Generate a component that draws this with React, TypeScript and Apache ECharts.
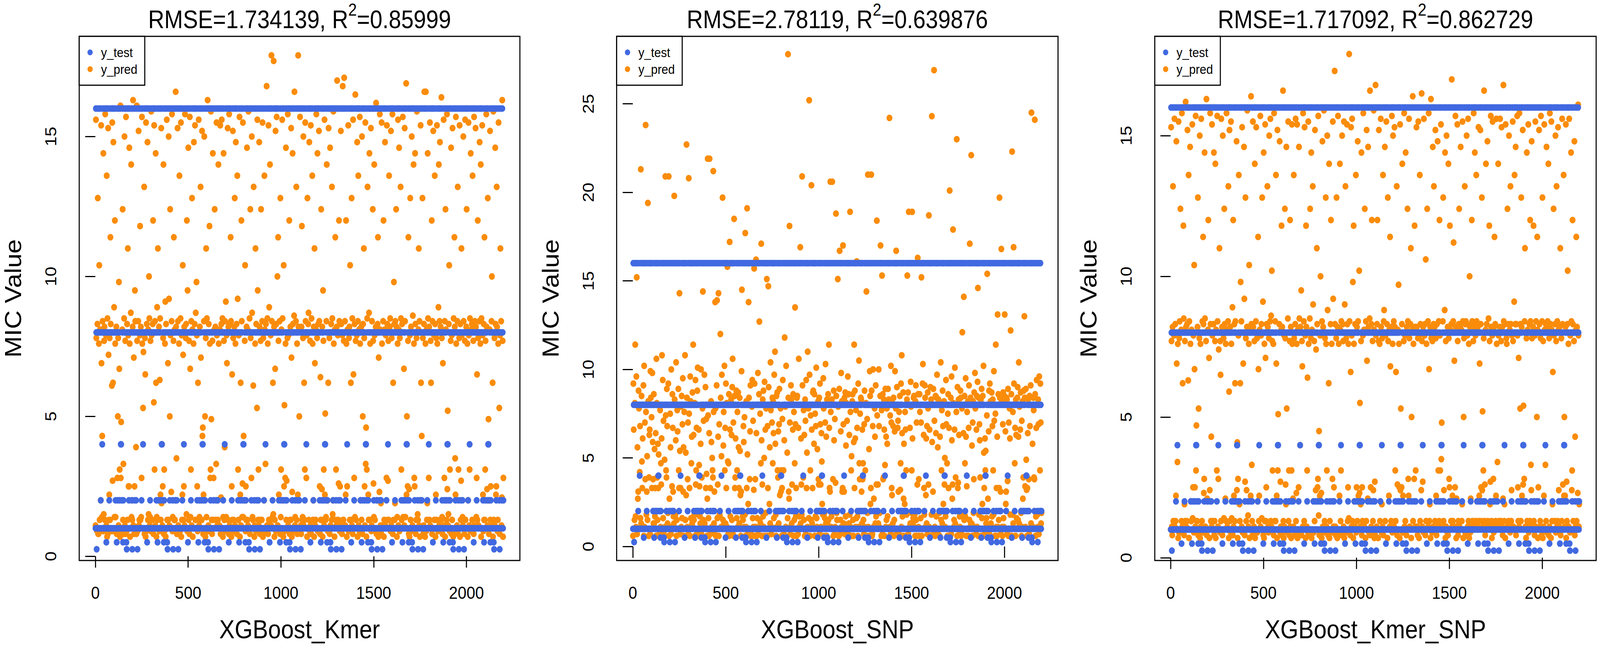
import React, { useEffect, useRef } from "react";
import * as echarts from "echarts";

const FONT = '"Liberation Sans", Arial, Helvetica, sans-serif';
const BLUE = "#4169E1";
const ORANGE = "#FA8C0A";

// y_test level codes (the test set repeats a 220-sample pattern ten times; one char per plotted sample, every 2nd index)
const LEVEL_OF: Record<string, number> = { a: 0.25, b: 0.5, c: 1, d: 2, e: 4, f: 8, g: 16 };
const Y_TEST_BLOCK =
  "cgfacfgccf gcfcdgfcef cgcffcgcfb gcfcgfcdfc gfccfgcfgc fcgfdcfbgc dfcgfdcgee cdfgbdcfgc fcgbafcgfc dgfccfgcda fgcfcdgfcd";
const BLOCK_COUNT = 10;
const X_STEP = 2;

// y_pred values, two base-36 digits per sample = value * 10 (e.g. "0a" = 1.0, "28" = 8.0, "4g" = 16.0)
const PRED_KMER = [
  "0b 4c 26 0a 09 2b 3k 08 08 24 2w 0d 29 0a 0k 4a 1x 0e 17 2c 09 40 0f 25 2a 0d 4e 0a 27 0b 3s 07 2d 08 49 20 0d 0m 26 0d 36 2b 0a 09 1p 4b 0r 1q 44 09 2h 0e 3c 24 0e 0a 2a 08 28 0s 1e 26 0b 2q 1v 0v 07 4h 0s 1c 0a 09 29 3g 0d 0x 08 2d 46 0b 25 08 4d 0a 09 2b 0d 32 27 0p 0p 42 24 07 0a 2f 3w 0e 0k 0d 2a 4j 0b 1z 08 0p 2n 2c 09 13",
  "08 4h 25 09 0a 2c 48 0b 0d 27 3a 0d 2a 0e 0s 4d 24 0a 1h 21 0a 3o 08 26 1t 07 4b 09 2b 0a 44 0d 29 0f 2s 2d 0b 0e 25 09 4f 27 0a 0d 2b 3c 08 1j 4a 0v 2c 0b 40 1q 07 0e 2h 0d 32 0a 0k 2a 09 1r 2d 0m 0d 49 0j 14 0b 0p 26 3w 08 0v 09 24 2j 07 2b 0a 4c 0d 0a 1x 0d 46 2k 0b 1e 3g 27 0a 0n 2c 4e 09 0e 0a 25 36 0d 29 0d 0k 4m 2a 0z 08",
  "0a 49 2c 0b 08 24 3s 0a 09 2d 4b 07 27 0d 0m 2w 20 0d 0p 2a 0b 4e 0a 26 2b 0f 3c 09 2n 0a 42 0d 25 08 4d 1v 0e 0v 2c 0b 3k 29 07 0a 24 44 0a 2b 4a 0d 2f 0a 2q 27 0p 09 1q 0d 4c 0b 0e 2a 0d 3o 1z 0k 0d 48 17 1a 08 0m 2c 46 0a 1e 07 26 32 0e 2d 09 4j 09 0b 2b 0a 3a 24 0s 0v 4f 1d 0d 08 25 40 0d 0s 0a 29 3g 0a 2a 0d 0x 4b 27 0b 0k",
  "0d 3w 24 0a 0b 29 4a 08 0l 2b 4c 0a 2d 07 0e 40 25 0d 13 2c 09 2j 0e 27 1x 0a 49 0d 2a 08 4e 0b 2b 0a 36 2c 07 0p 1t 0d 48 26 0d 09 2a 3k 0b 24 44 0a 2b 08 3s 2k 0v 0d 27 0a 4d 07 0m 1q 0b 3c 2c 0e 0q 4b 0e 17 0a 0k 25 2w 09 0p 0d 2a 42 0d 29 0b 4f 09 0a 2d 08 3g 26 0a 0s 46 2f 0e 0d 1p 3o 0a 07 0b 24 32 09 2b 0a 1h 4c 2n 0d 0v",
  "0b 44 2a 08 0d 25 3g 0a 0d 2c 4b 07 26 0a 0k 3s 29 09 0x 2b 0a 4o 0b 2d 24 08 4a 0d 2h 0a 3w 0d 27 0b 4z 2c 0a 0e 1q 0f 4x 2a 07 0d 1v 48 09 2b 4d 0a 2s 0b 36 25 0m 0a 2c 08 3k 0e 0v 29 0a 4c 2d 0k 07 2w 0p 1i 09 0s 24 42 0d 0r 0a 26 4e 0b 27 0a 3c 08 0d 2a 0d 49 1z 07 0n 40 2b 0a 09 2e 4m 0b 0e 0a 2c 3o 0d 24 08 0m 4z 2a 0a 1e",
  "0a 4d 29 0b 08 2a 3a 0d 0e 26 46 0b 1q 0d 0v 4b 2c 0a 0s 27 07 3k 0a 2b 2f 0d 44 09 25 0b 4a 08 2d 0a 3s 24 0d 0k 2a 07 32 1x 0b 0d 29 4e 0a 26 40 09 2b 0a 48 2c 0p 08 1s 0d 3g 0d 0o 2a 07 2n 25 0v 0b 4c 0m 1f 0d 0e 2c 3w 0a 0k 09 1q 49 0a 26 08 42 0b 0a 2b 0d 3o 2d 0f 0k 4f 24 0a 07 29 36 0d 0v 0b 2a 4q 0a 27 0d 0q 3c 2c 09 0p",
  "0b 48 2b 0a 08 27 4o 0d 0d 25 4r 0a 2c 0b 0m 3c 24 07 0p 29 0a 4a 09 26 2a 0d 2w 0a 1q 0d 3k 0b 2d 08 4c 1t 0a 0s 2b 0e 4l 25 0d 0a 27 44 07 2c 3s 0b 29 09 4d 24 0k 0a 2a 0d 46 08 1e 2b 0a 32 26 0p 0b 4b 0x 1a 07 0v 2d 3o 0a 0m 0d 2f 40 0d 24 0a 49 09 0b 2c 0a 3g 25 0q 0e 3w 27 0d 0a 2a 4i 08 0k 0a 2b 36 07 1z 0a 0n 4e 29 0b 0j",
  "08 4b 24 0b 0a 2c 3c 07 0d 29 44 0b 27 0a 0s 4a 2b 0d 0r 25 0d 3s 0a 2a 2d 09 48 0b 26 0a 4e 08 1q 0d 2q 2b 0d 0j 2c 0a 3g 2a 07 0e 24 4c 0b 29 42 09 26 0a 3o 2d 0v 0d 2b 0a 4d 0e 0k 1v 0b 49 2c 0e 0a 4p 0m 1e 0a 0p 25 36 08 0o 07 27 3k 0d 2a 09 46 0a 0b 2e 0a 3w 24 0s 0p 40 2b 08 0d 26 4f 0a 0f 0d 29 32 0b 2c 07 0k 4a 1q 0a 17",
  "0a 3k 26 08 0b 2b 4m 0a 07 24 4m 09 29 0d 0j 40 2d 0a 0s 2a 0d 4b 0b 25 1q 0a 3c 08 2c 0a 48 0a 27 0d 3s 2b 07 0m 26 0d 4a 24 0a 09 2h 3w 0b 2c 44 0d 2a 0d 4k 26 0e 08 1x 0a 4c 0b 0s 2c 07 3g 29 0k 0d 4e 0o 1g 0b 0f 2b 2w 09 0v 0a 25 42 08 27 0d 49 0a 07 2d 09 36 2a 0z 0m 4d 24 0a 0b 2c 3o 08 0v 0a 26 4a 07 2b 0d 0r 32 27 0a 0e",
  "0b 46 2c 0a 08 25 4c 0d 0a 2a 3g 0a 24 07 0k 4b 27 0b 0v 2d 09 40 0a 29 2b 0d 3s 0a 25 08 4d 0b 2c 0a 49 2a 0e 0s 1t 0d 3c 26 0b 0a 2c 44 0a 24 3w 07 2d 0a 4a 27 0m 09 2b 0d 36 0d 0v 25 0a 4e 2a 0o 0b 3k 0k 1d 08 0k 29 48 0d 0p 0a 2c 2s 0b 1q 07 4f 0d 0a 26 0b 42 2b 0m 0p 3o 2a 09 0d 24 4b 0a 1h 08 27 32 0a 2c 0b 0l 4j 25 07 0s",
];

const PRED_SNP = [
  "06 2k 1u 0a 0f 29 36 0h 0b 2o 48 07 1k 0r 0v 2g 26 0a 16 1w 0g 5x 0d 2d 1c 0x 1p 0b 2j 06 2u 0b 1y 12 6m 24 0i 0v 1f 0f 5e 2a 06 13 1r 1u 07 2r 2c 0a 21 0x 2q 1n 12 0d 2e 0d 1j 0h 0x 1s 06 2y 29 13 0f 1m 0x 1g 0a 07 27 25 0b 1b 0z 1p 30 06 2m 0g 1z 07 09 1d 0b 5t 22 17 13 2h 1w 0d 0j 2k 5t 06 0r 0b 23 1k 07 2s 0a 0y 2e 1v 0v 0h",
  "0d 5i 2b 0a 0i 1o 2w 06 0f 25 1t 0a 2h 17 0x 3z 1i 07 0x 27 0b 2d 0g 1x 2n 0v 1k 06 24 0a 30 0f 1h 0t 6b 2c 0b 12 1y 07 5s 23 0x 06 2o 2a 0g 1b 1q 0d 2f 0b 36 1r 0f 0i 29 06 2m 0z 17 1v 07 2g 2t 0i 06 1u 1a 0y 0h 0d 1m 2s 07 13 0b 26 40 0f 1z 0a 2p 0d 0b 2i 0x 20 15 06 0r 63 22 0g 06 1s 63 07 0x 0a 2a 1n 0b 1e 17 13 5w 24 0d 0v",
  "07 3u 26 06 0a 2j 3v 0g 0z 1q 3z 06 1x 0i 0h 3c 2c 0b 1f 2p 0a 5h 0f 1l 24 0d 2u 17 1v 0d 2k 0x 29 0b 4e 1c 07 1b 2e 06 4s 1u 0h 0a 2b 1r 0f 2i 2y 07 1y 06 55 2d 0x 13 1p 0a 2g 0g 17 24 0b 2f 1k 0x 0d 2c 1i 0t 06 0v 2r 41 0a 0h 0f 1w 1n 0b 21 0i 4x 06 0b 2a 0x 5b 1g 07 0o 3u 2c 0a 12 1t 2j 06 07 06 27 2m 0g 1z 0b 0w 4d 2k 06 12",
  "0b 4i 1s 06 0g 28 2q 07 0a 2e 3j 0f 23 0d 1b 4r 1o 06 0z 2b 0h 2g 0b 1e 2l 06 1u 0j 26 0a 47 06 1w 0x 43 2i 0a 0o 1k 0d 2w 25 07 0b 1y 2c 1b 2a 1s 0g 2p 0a 32 1m 0i 06 2d 0b 2f 17 13 1t 0d 1x 2h 0t 0a 26 0v 17 06 0x 20 2m 0a 17 07 1o 3a 06 27 0b 2u 0a 0a 1h 0g 7q 2c 0v 0r 51 1y 07 0b 2j 2b 0d 0z 0a 1u 2e 06 24 0f 1b 3r 1x 0h 0x",
  "06 2c 2d 0a 07 1v 2y 0b 0h 28 4p 0d 1p 0z 0i 5t 2j 0a 13 25 0f 1r 06 2b 1z 07 2m 0x 1h 0b 32 0a 26 0g 70 2p 06 17 22 0f 5o 1u 0d 0x 2f 2g 0a 1m 2e 06 23 0h 1w 2t 0g 0b 1j 06 2a 12 0z 2c 07 2k 1x 0z 0b 1s 1c 0o 0a 0i 2n 26 06 0j 0g 1y 2v 0d 1q 06 2b 0d 0b 2e 0f 36 1v 0x 0v 5q 24 0b 0h 2b 5q 0a 12 06 2g 1o 07 20 0b 10 58 2d 0j 0f",
  "0a 47 27 06 06 2h 4n 07 0f 1t 2q 0b 2a 0v 0x 4q 1x 0d 0v 2c 07 2f 0h 1l 29 0a 1z 06 2o 07 2e 0d 1r 0i 59 24 0b 17 1f 06 2a 2e 0f 06 1n 36 0x 2g 1p 0b 25 0g 4h 1v 0h 06 2k 0b 2x 1b 12 23 0a 2c 2b 0v 0d 1u 12 1b 0f 07 1x 2g 0b 17 06 29 40 0a 20 0j 5u 0b 06 1j 0a 2r 2d 0o 0x 5u 2g 06 07 1w 2s 0b 0r 0b 26 1q 0d 2j 0h 0z 54 22 0a 0z",
  "0d 2s 1w 0b 0j 2d 4q 0a 06 25 49 07 2e 12 13 2b 1u 06 1a 2h 0b 1q 0f 26 1m 0h 2h 0a 2b 0a 6q 0b 22 07 2u 1y 0x 0t 29 0d 1w 2c 06 0f 1t 2r 0a 26 4n 07 2i 0a 1v 1z 0v 07 24 06 2d 0w 1b 2k 0b 30 1s 0h 06 2f 0r 1m 0a 0o 24 1u 06 17 0i 2b 49 06 2f 07 59 0a 0b 1v 0d 2l 27 0j 17 59 1p 0d 0g 2c 2d 0b 0i 06 2a 2j 0f 1y 06 0z 4j 2e 0b 12",
  "06 2e 24 0a 0g 1y 48 06 0a 2k 2v 0a 1r 0x 0i 2j 2c 0b 0t 1p 0d 1w 07 2f 26 0z 57 0b 1u 06 2i 06 2b 0i 6r 1n 0a 0v 2h 07 7h 1z 0b 06 2d 1s 0h 2c 2p 0a 1k 07 2b 2a 0j 06 1q 0a 2w 0f 17 25 0d 2g 1w 0o 0b 2a 0z 1e 0b 0h 2m 1x 0a 1b 06 23 2e 0x 1v 0a 5l 06 06 2c 07 2o 1o 0r 0z 4z 29 0b 0f 1u 2t 0d 13 0a 24 6e 06 2i 0x 10 2b 1r 07 0h",
  "0b 2g 2c 06 07 26 3d 0a 0i 1s 3x 0f 2d 1b 0h 2n 1q 06 0y 24 0a 2a 06 1v 2j 0f 4r 0b 2c 0d 65 0d 1l 06 1y 2a 0j 12 2f 0b 2q 26 0a 07 1u 2d 0b 2l 42 06 2c 0i 1x 1o 13 0a 2b 06 2h 0g 0o 2d 06 2u 1h 0x 07 1p 17 1i 0d 0g 22 4a 0a 0r 0b 1t 2g 07 2k 06 2a 0d 0b 2f 0h 1w 2b 17 0i 2r 1z 0a 06 23 36 0b 0x 06 1q 3n 0b 2e 0f 0x 5h 2c 0a 0v",
  "07 4o 2a 0b 06 1x 2f 0g 0b 2d 3n 0a 1t 0o 0v 2c 2b 07 11 2h 06 1y 0a 26 1p 0i 3e 06 2e 06 67 0i 24 0d 4p 2k 0a 1b 1v 06 2b 1r 0g 0a 2c 2i 0f 1q 2w 0d 27 0b 1u 2f 0j 06 1z 0b 2a 0r 13 2g 0a 3m 2c 0y 0b 2h 1d 0w 06 0x 1s 2b 06 12 07 2d 1w 0a 2j 0d 6t 0b 0a 1m 0b 2c 25 13 12 6p 2e 06 0h 1v 2m 0a 0i 0b 2b 1x 07 2o 0b 17 2k 1y 0d 0j",
];

const PRED_KMER_SNP = [
  "0a 49 25 0b 08 2a 3o 0d 0a 27 4c 0b 2b 0d 0m 44 1x 0a 0y 24 07 4b 09 26 2c 0a 3g 09 29 0d 4e 0b 1q 0a 3a 2d 08 0j 25 0d 4i 2a 0b 0d 2b 48 0a 1r 3s 07 2c 0a 42 24 0k 0d 29 0a 4a 0e 0p 27 09 2w 1v 0p 0b 4d 0v 1b 0d 0d 2a 3k 08 1h 0a 26 46 07 24 0b 4c 0a 0d 2c 09 36 2b 0n 0s 40 2d 0b 0a 25 4j 08 0l 0a 29 3c 0a 1z 07 0o 4e 2b 0d 17",
  "0b 4a 27 0a 0d 2b 40 08 0d 25 3w 07 29 0a 0v 4d 2c 0b 0s 22 0a 32 09 25 1t 0d 4c 0a 2a 08 46 0a 26 0e 3g 2b 0a 0l 24 0d 4e 29 0b 0a 2c 3o 07 1n 48 0d 2a 09 4b 24 0e 0a 2h 08 3c 0b 0m 2b 0d 1q 2c 0k 0a 44 0o 15 07 0s 27 3s 0a 0j 0d 1q 2q 0a 2c 0b 49 09 0a 1x 0a 42 2k 08 0r 3k 26 0d 0o 2a 4f 0a 0f 0b 24 2w 07 29 0a 0m 4k 2b 0x 0d",
  "08 4b 2a 0a 0b 25 3w 07 0a 2c 49 0a 26 09 0k 36 1v 0d 0m 29 0a 4d 0b 27 2b 0e 3k 0a 2j 08 40 07 24 0d 4a 1z 0d 0p 2b 0a 3o 2a 0b 09 26 46 0a 2c 4c 0d 2e 0b 2u 25 0v 0a 24 08 4e 0a 0d 2c 0d 3s 1x 0m 07 48 0v 1f 0a 0k 2b 44 09 0r 0b 29 3a 08 2a 0a 4m 0d 07 27 0b 3g 26 0q 0j 42 1h 09 0a 2d 4b 0d 0v 08 25 3c 0b 2a 07 0v 4a 24 0a 0l",
  "0b 3s 26 08 0a 2b 4c 0d 0n 24 4a 07 29 0a 0p 42 2d 09 14 2a 0a 2n 08 25 1w 0b 4e 0a 2c 0d 49 0a 27 07 3a 2a 0b 0v 1s 09 4b 24 08 0a 2d 3g 0a 26 40 07 29 0a 3o 2i 0k 09 25 0d 48 0a 0o 22 0a 32 2b 0p 0s 4d 0f 19 08 0m 27 2s 0a 0n 07 2c 44 0b 2a 09 4f 0a 0d 26 0a 3k 24 0b 0v 46 2g 08 0a 1q 3w 07 0d 0a 2b 3c 0a 24 09 0s 4b 2k 0b 0p",
  "0a 4t 2b 0b 08 26 3k 0a 07 2a 4d 0a 24 09 0m 3w 29 0d 0v 2c 08 46 0a 2b 25 0b 4b 07 2i 0a 3o 09 26 0a 4a 2b 0d 0p 24 0e 4z 2c 0a 08 1u 49 0b 27 4c 0d 2q 07 3a 24 0k 0b 2b 0a 3s 09 0p 2a 0d 44 2c 0m 0a 2u 0n 1j 0b 0j 25 40 08 0p 0d 27 4e 0a 29 0b 3g 0a 07 2c 0d 48 1y 0a 0l 42 2a 09 0a 2d 4m 08 0p 0b 2b 3c 0a 25 0d 0o 4f 29 07 0r",
  "08 4o 27 0a 0b 2b 3c 0a 07 25 48 0a 24 0d 0k 4c 2a 09 0j 26 0b 3s 08 2c 2g 0a 42 0d 27 0a 4b 0a 2b 07 3k 25 0a 0m 29 0b 36 1w 0a 0d 2a 4d 09 24 46 0a 2c 0b 49 2a 0v 0d 1u 0a 3o 08 0q 29 0a 2p 24 0p 07 4a 0o 1h 0a 0p 2b 3w 09 0m 0a 25 4e 0b 27 0d 40 0a 08 2a 0a 3g 2c 0s 0m 4c 26 0b 0a 2b 32 07 1e 0a 29 4k 0d 24 0a 0s 3a 2a 0b 0v",
  "0a 49 2a 0b 08 26 4b 0a 07 27 3s 0d 2b 0a 0o 4l 25 0b 0r 2a 09 4c 0a 27 2b 08 2y 0d 24 0a 3g 0a 2c 0b 4e 1v 0d 0j 2a 07 4j 26 0a 09 25 42 0b 2b 3o 0a 2a 0d 48 26 0m 08 2b 0a 44 0b 0v 2c 0d 3c 27 0v 0a 4a 0z 1c 0b 0k 2c 3k 0d 0o 0a 2g 40 07 25 0b 46 0a 09 2a 08 3w 26 0s 0p 3a 29 0a 0d 2b 4q 0b 0m 0d 2c 34 0a 1y 0b 0p 4d 2a 07 0l",
  "0b 4a 25 08 0d 2b 3g 0b 0a 2a 42 0a 29 0d 0j 4b 2c 07 1e 26 0a 3o 09 2b 2c 0a 46 08 27 0b 4c 0d 24 07 2s 2a 09 0l 2b 0b 3c 2c 0d 0d 25 4e 0a 2a 40 0b 27 0d 3s 2c 0k 0a 2a 0b 49 0d 0m 1x 0a 48 2b 0p 0d 3k 0o 1g 0b 0v 26 4m 0d 0q 08 29 3w 0a 2b 0b 44 0d 0a 2d 0b 3a 25 0j 0r 4d 2a 0d 07 27 4b 0b 0s 09 2a 36 0a 2b 0d 0m 4c 24 0b 0y",
  "0b 3w 27 0d 0a 2a 4c 0b 0d 25 49 0b 2a 08 0l 4o 2c 0d 0j 2b 07 4a 0a 26 24 0b 3g 0a 2b 0d 46 0b 29 09 3o 2b 0d 0o 27 0a 4b 25 0b 0a 2j 3s 0a 2b 42 08 2b 0a 4d 27 0p 0d 1z 0b 4e 0a 1h 2b 0d 3k 2a 0m 0a 48 0q 1i 0a 0s 2c 32 0b 0k 07 26 40 0d 29 0a 4a 09 0b 2b 0d 3c 2c 0x 0o 44 26 0b 0a 2a 3a 0d 0k 08 27 4b 0b 2c 0a 1e 36 29 07 0p",
  "0a 48 2b 0b 0d 26 4d 0a 08 2c 3k 07 25 0b 0m 4a 29 0a 0x 2b 0d 42 09 2a 2c 0a 3w 08 26 0b 4e 0a 2b 07 4b 29 0d 0j 1u 0a 3g 27 0a 0d 2b 46 09 25 3o 0b 2c 0d 49 29 0o 0b 2a 0a 32 08 0k 26 0d 4c 2b 0q 0a 3s 0m 1e 0b 0m 2a 4a 07 0r 0d 2b 2u 0a 24 0b 4c 0a 09 27 0a 40 2c 0o 0v 3c 2b 0d 0a 25 44 08 17 0b 29 36 0d 2a 0a 0n 4h 27 0b 0j",
];

const X_TICKS = [0, 500, 1000, 1500, 2000];
const Y_TICKS_18 = [0, 5, 10, 15];
const Y_TICKS_28 = [0, 5, 10, 15, 20, 25];
const RMSE_TEXT = ["1.734139", "2.78119", "1.717092"];
const R2_TEXT = ["0.85999", "0.639876", "0.862729"];
const X_NAMES = ["XGBoost_Kmer", "XGBoost_SNP", "XGBoost_Kmer_SNP"];
const Y_NAME = "MIC Value";
const SERIES_NAMES = ["y_test", "y_pred"];
const X_RANGES = [
  [-87, 2288],
  [-87, 2288],
  [-85, 2290],
];
const Y_RANGES = [
  [-0.15, 18.58],
  [-0.79, 28.81],
  [-0.1, 18.53],
];

const clean = (s: string) => s.replace(/\s+/g, "");
const decodePred = (lines: string[]) => {
  const t = clean(lines.join(""));
  const out: number[] = [];
  for (let i = 0; i + 1 < t.length; i += 2) out.push(parseInt(t.slice(i, i + 2), 36) / 10);
  return out;
};
const yTestCodes = clean(Y_TEST_BLOCK).repeat(BLOCK_COUNT);
const Y_TEST = Array.from(yTestCodes).map((c) => LEVEL_OF[c]);
const toPoints = (vals: number[]) => vals.map((v, k) => [k * X_STEP + 1, v]);

const PANELS = [
  { pred: decodePred(PRED_KMER), yTicks: Y_TICKS_18 },
  { pred: decodePred(PRED_SNP), yTicks: Y_TICKS_28 },
  { pred: decodePred(PRED_KMER_SNP), yTicks: Y_TICKS_18 },
];

// layout
const W = 4564;
const H = 1663;
const GRID_TOP = 93;
const GRID_H = 1341;
const GRID_BOX = [
  { left: 226, width: 1257 },
  { left: 1759, width: 1259 },
  { left: 3294, width: 1259 },
];

export default function App() {
  const outerRef = useRef<HTMLDivElement>(null);
  const ref = useRef<HTMLDivElement>(null);
  useEffect(() => {
    document.body.style.margin = "0";
    document.body.style.overflow = "hidden";
    if (!ref.current || !outerRef.current) return;
    const vw = window.innerWidth || W;
    const sx = vw < W ? vw / W : 1;
    outerRef.current.style.width = `${Math.min(vw, W)}px`;
    ref.current.style.transform = `scale(${sx}, 1)`;
    ref.current.style.transformOrigin = "0 0";

    const chart = echarts.init(ref.current, undefined, { renderer: "svg", width: W, height: H });

    const grid = GRID_BOX.map((g) => ({
      left: g.left,
      top: GRID_TOP,
      width: g.width,
      height: GRID_H,
      show: true,
      borderColor: "#000",
      borderWidth: 3,
      backgroundColor: "transparent",
    }));

    const xAxis = GRID_BOX.map((_, i) => ({
      type: "value",
      gridIndex: i,
      min: X_RANGES[i][0],
      max: X_RANGES[i][1],
      axisLine: { show: false },
      splitLine: { show: false },
      axisTick: { show: true, length: 29, lineStyle: { color: "#000", width: 3 }, customValues: X_TICKS },
      axisLabel: {
        customValues: X_TICKS,
        fontSize: 45,
        color: "#000",
        fontFamily: FONT,
        margin: 60,
        formatter: (v: number) => String(v),
      },
    }));

    const yAxis = GRID_BOX.map((_, i) => ({
      type: "value",
      gridIndex: i,
      min: Y_RANGES[i][0],
      max: Y_RANGES[i][1],
      axisLine: { show: false },
      splitLine: { show: false },
      axisTick: {
        show: true,
        length: 29,
        lineStyle: { color: "#000", width: 3 },
        customValues: PANELS[i].yTicks,
      },
      axisLabel: {
        customValues: PANELS[i].yTicks,
        fontSize: 45,
        color: "#000",
        fontFamily: FONT,
        margin: 59,
        rotate: 90,
        formatter: (v: number) => String(v),
      },
    }));

    const series: any[] = [];
    PANELS.forEach((p, i) => {
      series.push({
        name: SERIES_NAMES[1],
        type: "scatter",
        xAxisIndex: i,
        yAxisIndex: i,
        data: toPoints(p.pred),
        symbol: "circle",
        symbolSize: 17,
        itemStyle: { color: ORANGE, opacity: 1 },
        silent: true,
        z: 2,
      });
      series.push({
        name: SERIES_NAMES[0],
        type: "scatter",
        xAxisIndex: i,
        yAxisIndex: i,
        data: toPoints(Y_TEST),
        symbol: "circle",
        symbolSize: 17,
        itemStyle: { color: BLUE, opacity: 1 },
        silent: true,
        z: 3,
      });
    });

    const graphic: any[] = [];
    GRID_BOX.forEach((g, i) => {
      const cx = g.left + g.width / 2;
      graphic.push({
        type: "text",
        x: cx,
        y: 50,
        z: 100,
        style: {
          text: `{t|RMSE=${RMSE_TEXT[i]}, R}{s|2}{t|=${R2_TEXT[i]}}`,
          rich: {
            t: { fontSize: 64, fontFamily: FONT, fill: "#000" },
            s: { fontSize: 44, fontFamily: FONT, fill: "#000", padding: [0, 0, 50, 0] },
          },
          align: "center",
          verticalAlign: "middle",
          textAlign: "center",
          textVerticalAlign: "middle",
        },
      });
      graphic.push({
        type: "text",
        x: cx,
        y: 1610,
        z: 100,
        style: {
          text: X_NAMES[i],
          fontSize: 66,
          fontFamily: FONT,
          fill: "#000",
          align: "center",
          verticalAlign: "middle",
          textAlign: "center",
          textVerticalAlign: "middle",
        },
      });
      graphic.push({
        type: "text",
        x: g.left - 189,
        y: GRID_TOP + GRID_H / 2,
        rotation: Math.PI / 2,
        z: 100,
        style: {
          text: Y_NAME,
          fontSize: 66,
          fontFamily: FONT,
          fill: "#000",
          align: "center",
          verticalAlign: "middle",
          textAlign: "center",
          textVerticalAlign: "middle",
        },
      });
      graphic.push({
        type: "rect",
        z: 100,
        shape: { x: g.left, y: GRID_TOP, width: 187, height: 125 },
        style: { fill: "#fff", stroke: "#000", lineWidth: 3 },
      });
      [BLUE, ORANGE].forEach((col, k) => {
        const yy = GRID_TOP + 41 + k * 43;
        graphic.push({
          type: "circle",
          z: 101,
          shape: { cx: g.left + 31, cy: yy, r: 7.5 },
          style: { fill: col },
        });
        graphic.push({
          type: "text",
          z: 101,
          x: g.left + 62,
          y: yy,
          style: {
            text: SERIES_NAMES[k],
            fontSize: 34,
            fontFamily: FONT,
            fill: "#000",
            align: "left",
            verticalAlign: "middle",
            textAlign: "left",
            textVerticalAlign: "middle",
          },
        });
      });
    });

    chart.setOption({
      animation: false,
      backgroundColor: "#fff",
      grid,
      xAxis,
      yAxis,
      series,
      graphic,
    });
    return () => chart.dispose();
  }, []);
  return (
    <div ref={outerRef} style={{ width: W, height: H, overflow: "hidden" }}>
      <div ref={ref} style={{ width: W, height: H }} />
    </div>
  );
}
